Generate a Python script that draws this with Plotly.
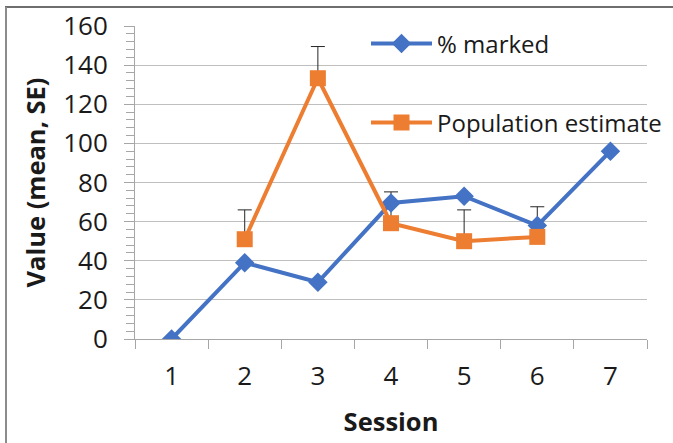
import plotly.graph_objects as go

sessions = ["1", "2", "3", "4", "5", "6", "7"]
pct_marked = [0, 39, 29, 69.5, 73, 58, 96]
pop_sessions = ["2", "3", "4", "5", "6"]
pop_estimate = [51, 133.3, 59.2, 50, 52.2]
pop_se = [15, 16.2, 16, 16, 15.4]

y_ticks = [0, 20, 40, 60, 80, 100, 120, 140, 160]

BLUE = "#4472C4"
ORANGE = "#ED7D31"
TXT = "#1a1a1a"
GRID = "#bfbfbf"
FONT = "Open Sans"
TICK_FS = 26
TITLE_FS = 25.5
LEG_FS = 24

fig = go.Figure()

# error bars (drawn first so markers sit above them)
fig.add_trace(go.Scatter(
    x=pop_sessions, y=pop_estimate, mode="markers",
    marker=dict(size=1, color="rgba(0,0,0,0)"),
    error_y=dict(type="data", symmetric=False, array=pop_se,
                 arrayminus=[0] * len(pop_se), color="#262626",
                 thickness=1, width=7),
    showlegend=False, hoverinfo="skip",
))

fig.add_trace(go.Scatter(
    x=sessions, y=pct_marked, mode="lines+markers", name="% marked",
    line=dict(color=BLUE, width=4),
    marker=dict(symbol="diamond", size=15, color=BLUE),
    legend="legend",
))

fig.add_trace(go.Scatter(
    x=pop_sessions, y=pop_estimate, mode="lines+markers",
    name="Population estimate",
    line=dict(color=ORANGE, width=4),
    marker=dict(symbol="square", size=16, color=ORANGE),
    legend="legend2",
))

W, H = 673, 443
L, R, T, B = 135, 26, 26, 104
pw, ph = W - L - R, H - T - B


def px_x(p):
    return (p - L) / pw


def px_y(p):
    return (H - B - p) / ph


fig.update_layout(
    width=W, height=H,
    margin=dict(l=L, r=R, t=T, b=B, autoexpand=False),
    paper_bgcolor="white", plot_bgcolor="white",
    font=dict(family=FONT, size=TICK_FS, color=TXT),
    xaxis=dict(
        type="category", categoryorder="array", categoryarray=sessions,
        range=[-0.5, 6.5],
        showgrid=False, showline=True, linecolor="#a6a6a6", linewidth=1,
        ticks="outside", tickson="boundaries", ticklen=9,
        tickcolor="#a6a6a6", tickwidth=1,
        ticklabelstandoff=14,
        tickfont=dict(size=TICK_FS, color=TXT),
        title=dict(text="<b>Session</b>",
                   font=dict(size=TITLE_FS, color=TXT), standoff=20),
        automargin=False, zeroline=False,
    ),
    yaxis=dict(
        range=[0, 160], tickvals=y_ticks, ticktext=[str(v) for v in y_ticks],
        showgrid=True, gridcolor=GRID, gridwidth=1,
        showline=True, linecolor="#a6a6a6", linewidth=1,
        ticks="outside", ticklen=10, tickcolor="#a6a6a6", tickwidth=1,
        minor=dict(dtick=4, tick0=0, ticks="outside", ticklen=8,
                   tickcolor="#a6a6a6", tickwidth=1, showgrid=False),
        ticklabelstandoff=11,
        tickfont=dict(size=TICK_FS, color=TXT),
        title=dict(text="<b>Value (mean, SE)</b>",
                   font=dict(size=TITLE_FS, color=TXT), standoff=10),
        automargin=False, zeroline=False,
    ),
    legend=dict(
        x=px_x(366), y=px_y(44), xanchor="left", yanchor="middle",
        bgcolor="rgba(0,0,0,0)", borderwidth=0, itemwidth=61,
        font=dict(size=LEG_FS, color=TXT),
    ),
    legend2=dict(
        x=px_x(366), y=px_y(123), xanchor="left", yanchor="middle",
        bgcolor="rgba(0,0,0,0)", borderwidth=0, itemwidth=61,
        font=dict(size=LEG_FS, color=TXT),
    ),
    shapes=[
        dict(type="line", xref="paper", yref="paper",
             x0=px_x(5), x1=px_x(673), y0=px_y(7), y1=px_y(7),
             line=dict(color="#6e6e6e", width=2), layer="above"),
        dict(type="line", xref="paper", yref="paper",
             x0=px_x(6), x1=px_x(6), y0=px_y(7), y1=px_y(443),
             line=dict(color="#8c8c8c", width=2), layer="above"),
    ],
)

fig.write_html(
    "out.html",
    config={"displayModeBar": False},
    post_script="document.body.style.margin='0';document.body.style.padding='0';",
)
